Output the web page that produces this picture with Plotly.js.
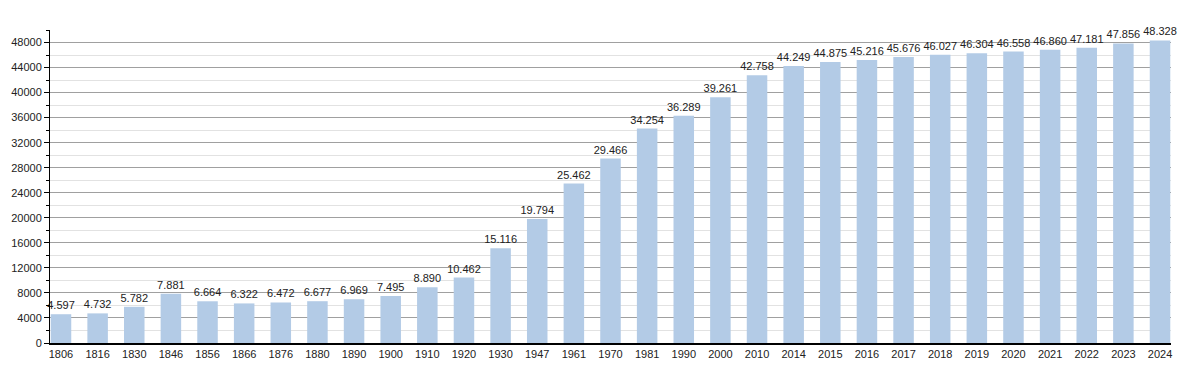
<!DOCTYPE html>
<html>
<head>
<meta charset="utf-8">
<script src="https://cdn.plot.ly/plotly-3.0.1.min.js"></script>
<style>html,body{margin:0;padding:0;background:#fff}#chart{width:1200px;height:373px}</style>
</head>
<body>
<div id="chart"></div>
<script>
const years = ["1806","1816","1830","1846","1856","1866","1876","1880","1890","1900","1910","1920","1930","1947","1961","1970","1981","1990","2000","2010","2014","2015","2016","2017","2018","2019","2020","2021","2022","2023","2024"];
const population = [4597,4732,5782,7881,6664,6322,6472,6677,6969,7495,8890,10462,15116,19794,25462,29466,34254,36289,39261,42758,44249,44875,45216,45676,46027,46304,46558,46860,47181,47856,48328];

const trace = {
  type: 'bar',
  x: years,
  y: population,
  marker: {color: '#b3cbe6'},
  texttemplate: '%{y:,d}',
  textposition: 'outside',
  constraintext: 'none',
  cliponaxis: false,
  textfont: {family: 'Liberation Sans, Arial, sans-serif', size: 11, color: '#222'},
  hoverinfo: 'x+y'
};

const layout = {
  width: 1200, height: 373,
  margin: {l: 50, r: 29, t: 30, b: 30},
  paper_bgcolor: '#fff', plot_bgcolor: '#fff',
  separators: ',.',
  bargap: 0.44,
  showlegend: false,
  font: {family: 'Liberation Sans, Arial, sans-serif', size: 11, color: '#222'},
  xaxis: {
    type: 'category',
    range: [-0.3, 30.3],
    showline: true, linecolor: '#000', linewidth: 1.5,
    ticks: '', showgrid: false,
    tickfont: {size: 11, color: '#222'}
  },
  yaxis: {
    range: [0, 50000],
    dtick: 4000, tick0: 0,
    tickformat: 'd',
    showline: true, linecolor: '#000', linewidth: 1,
    ticks: 'outside', ticklen: 5, tickcolor: '#000',
    showgrid: true, gridcolor: '#a0a0a0', gridwidth: 1,
    zeroline: false,
    minor: {dtick: 2000, showgrid: true, gridcolor: '#e2e2e2', ticks: 'outside', ticklen: 3, tickcolor: '#000'},
    tickfont: {size: 11, color: '#222'}
  }
};

Plotly.newPlot('chart', [trace], layout, {displayModeBar: false, staticPlot: true});
</script>
</body>
</html>
